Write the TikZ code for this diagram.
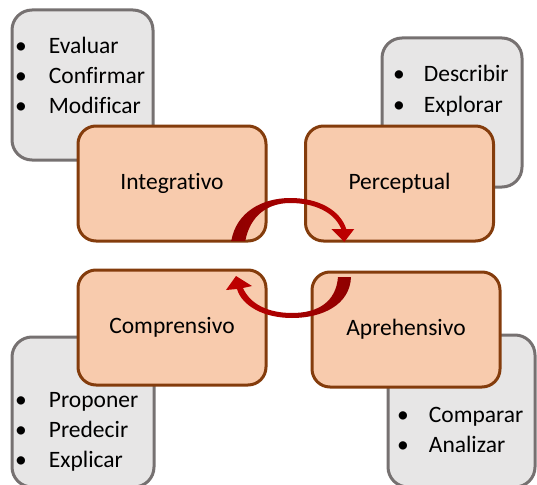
\documentclass[tikz,border=0pt]{standalone}
\usepackage{fontspec}
\setmainfont{Carlito}[Ligatures=NoCommon]
\usepackage{xcolor}
\usetikzlibrary{positioning,calc}
\definecolor{stageFill}{HTML}{F8CBAD}
\definecolor{stageLine}{HTML}{843C0C}
\definecolor{panelFill}{HTML}{E7E6E6}
\definecolor{panelLine}{HTML}{767171}
\definecolor{loopRed}{HTML}{C00000}
\definecolor{loopDark}{HTML}{8E0000}
\begin{document}
\begin{tikzpicture}[x=1pt, y=-1pt, font=\fontsize{23.5}{30}\selectfont,
  stage/.style={draw=stageLine, line width=3pt, fill=stageFill, rounded corners=18pt,
    minimum width=188pt, minimum height=115pt, inner sep=0pt, outer sep=0pt},
  panel/.style={draw=panelLine, line width=3pt, fill=panelFill, rounded corners=20pt,
    inner sep=0pt, outer sep=0pt},
  items/.style={inner sep=0pt, anchor=base west, align=left}]
\useasboundingbox (0,0) rectangle (537,484);
\node[panel, minimum width=141pt, minimum height=150pt] (evalp) at (82.5,85) {};
\node[panel, minimum width=140pt, minimum height=149pt] (descp) at (452,112.5) {};
\node[panel, minimum width=142pt, minimum height=150pt] (propp) at (83,412) {};
\node[panel, minimum width=147pt, minimum height=152pt] (compp) at (461.5,411) {};
\node[items] (evalt) at ($(evalp.north west)+(3,44)$) {\begin{tabular}[t]{@{}l@{\hspace{22pt}}l@{}}
  \textbullet & Evaluar\\ \textbullet & Confirmar\\ \textbullet & Modificar\end{tabular}};
\node[items] (desct) at ($(descp.north west)+(11,44)$) {\begin{tabular}[t]{@{}l@{\hspace{19pt}}l@{}}
  \textbullet & Describir\\ \textbullet & Explorar\end{tabular}};
\node[items] (propt) at ($(propp.north west)+(3,70)$) {\begin{tabular}[t]{@{}l@{\hspace{22pt}}l@{}}
  \textbullet & Proponer\\ \textbullet & Predecir\\ \textbullet & Explicar\end{tabular}};
\node[items] (compt) at ($(compp.north west)+(9,87)$) {\begin{tabular}[t]{@{}l@{\hspace{20pt}}l@{}}
  \textbullet & Comparar\\ \textbullet & Analizar\end{tabular}};
\node[stage] (integ) at (172,183.5) {Integrativo};
\node[stage] (percep) at (399.5,183.5) {Perceptual};
\node[stage] (compr) at (172,327.5) {Comprensivo};
\node[stage] (apreh) at (406,329.5) {Aprehensivo};
\coordinate (uphub) at ($(integ.south east)!0.5!(percep.south west)$);
\coordinate (lowhub) at ($(compr.north east)!0.5!(apreh.north west)$);
\begin{scope}[shift={(uphub)}]
\shade[left color=loopDark, right color=loopRed]
  (-54.5,0) .. controls (-49.5,-29) and (-23.5,-43) .. (4.5,-43)
  .. controls (32.5,-43) and (54.5,-31) .. (60.5,-12) -- (68.5,-12) -- (58.5,1) -- (45.5,-12)
  -- (55.5,-12) .. controls (48.5,-29) and (28.5,-38) .. (4.5,-38)
  .. controls (-17.5,-38) and (-35.5,-26) .. (-40.5,0) -- cycle;
\end{scope}
\begin{scope}[shift={(lowhub)}]
\shade[left color=loopRed, right color=loopDark]
  (62,6) .. controls (61,34) and (33,47) .. (3,47)
  .. controls (-25,47) and (-47,35) .. (-52,18) -- (-63,19) -- (-53,5) -- (-37,15)
  -- (-46,17) .. controls (-39,33) and (-21,42) .. (3,42)
  .. controls (29,42) and (47,31) .. (49,6) -- cycle;
\end{scope}
\end{tikzpicture}
\end{document}
